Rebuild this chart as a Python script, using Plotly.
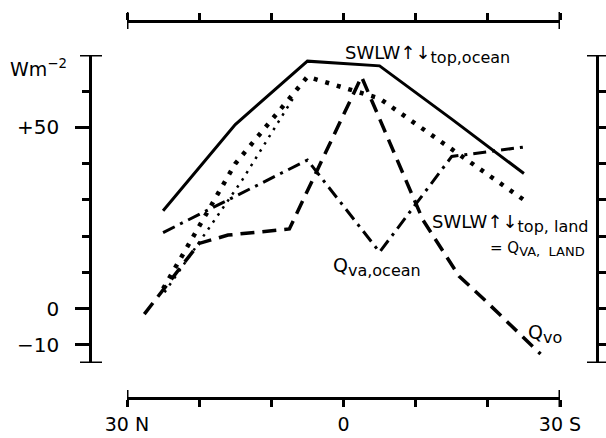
import plotly.graph_objects as go

# ---- data ----
lat_main = [-25, -15, -5, 5, 15, 25]
swlw_top_ocean = [27.0, 50.8, 68.3, 67.0, 52.3, 37.3]
swlw_top_land = [5.5, 40.0, 64.0, 58.0, 44.0, 30.0]
qva_ocean = [21.0, 31.0, 41.0, 15.6, 42.0, 44.6]

lat_land_faint = [-24.8, -14.0, -7.0]
land_faint = [4.5, 35.6, 58.0]

lat_qvo = [-27.6, -20.0, -16.0, -7.5, 2.5, 11.0, 16.0, 19.5, 27.3]
qvo = [-1.5, 18.0, 20.3, 22.0, 64.0, 24.5, 9.0, 2.5, -12.5]

x_ticks = [-30, -20, -10, 0, 10, 20, 30]
x_ticktext = ["30 N", "", "", "0", "", "", "30 S"]
y_major = [-10, 0, 50]
y_major_text = ["\u221210", "0", "+50"]
y_minor = [10, 20, 30, 40, 60]
y_right_ticks = [-10, 0, 10, 20, 30, 40, 50, 60]

X_RANGE = [-30, 30]
Y_RANGE = [-15, 70]

FONT = "DejaVu Sans"
BLK = "black"

fig = go.Figure()

fig.add_trace(go.Scatter(x=lat_main, y=swlw_top_ocean, mode="lines",
                         line=dict(color=BLK, width=3)))
fig.add_trace(go.Scatter(x=lat_main, y=swlw_top_land, mode="lines",
                         line=dict(color=BLK, width=4.5, dash="4px,8px")))
fig.add_trace(go.Scatter(x=lat_land_faint, y=land_faint, mode="lines",
                         line=dict(color=BLK, width=2.5, dash="2.5px,6px")))
fig.add_trace(go.Scatter(x=lat_main, y=qva_ocean, mode="lines",
                         line=dict(color=BLK, width=3, dash="13px,6px,3px,6px")))
fig.add_trace(go.Scatter(x=lat_qvo, y=qvo, mode="lines",
                         line=dict(color=BLK, width=3.5, dash="14px,8px")))
# dummy trace so the secondary (top / right) axes exist
fig.add_trace(go.Scatter(x=[0], y=[0], xaxis="x2", yaxis="y2", mode="markers",
                         marker=dict(opacity=0), hoverinfo="skip"))

PW, PH = 507, 377
XD = [37 / PW, 470 / PW]
YD = [35 / PH, 343 / PH]

axis_common = dict(showline=True, linecolor=BLK, linewidth=2.5, showgrid=False,
                   zeroline=False, tickcolor=BLK, tickwidth=2.5, automargin=False,
                   tickfont=dict(family=FONT, size=20, color=BLK))
x_common = dict(axis_common)
x_common["tickfont"] = dict(family=FONT, size=19, color=BLK)

fig.update_layout(
    template="none",
    width=606, height=438,
    margin=dict(l=90, r=9, t=21, b=40),
    paper_bgcolor="white", plot_bgcolor="white",
    showlegend=False,
    xaxis=dict(domain=XD, range=X_RANGE, anchor="free", position=0,
               tickmode="array", tickvals=x_ticks, ticktext=x_ticktext,
               ticks="outside", ticklen=7, ticklabelstandoff=1, **x_common),
    xaxis2=dict(domain=XD, range=X_RANGE, anchor="free", position=1,
                overlaying="x", side="top", tickmode="array", tickvals=x_ticks,
                showticklabels=False, ticks="outside", ticklen=7, **x_common),
    yaxis=dict(domain=YD, range=Y_RANGE, anchor="free", position=0,
               tickmode="array", tickvals=y_major, ticktext=y_major_text,
               ticks="outside", ticklen=14, ticklabelstandoff=12,
               minor=dict(tickmode="array", tickvals=y_minor, ticks="outside",
                          ticklen=7, tickwidth=2.5, tickcolor=BLK),
               **axis_common),
    yaxis2=dict(domain=YD, range=Y_RANGE, anchor="free", position=1,
                overlaying="y", side="right", tickmode="array",
                tickvals=y_right_ticks, showticklabels=False,
                ticks="outside", ticklen=7, **axis_common),
)

# end caps of the axes
cap = dict(type="line", line=dict(color=BLK, width=3))
for yv in Y_RANGE:
    fig.add_shape(xref="paper", yref="y", x0=-10 / PW, x1=12 / PW, y0=yv, y1=yv, **cap)
    fig.add_shape(xref="paper", yref="y", x0=1 - 10 / PW, x1=1 + 12 / PW, y0=yv, y1=yv, **cap)
for xv in X_RANGE:
    fig.add_shape(xref="x", yref="paper", x0=xv, x1=xv, y0=-9 / PH, y1=8 / PH, **cap)
    fig.add_shape(xref="x", yref="paper", x0=xv, x1=xv, y0=1 - 8 / PH, y1=1 + 9 / PH, **cap)


def fnt(size):
    return dict(family=FONT, size=size, color=BLK)


def sub(text, size):
    return "<sub><span style='font-size:%dpx'>%s</span></sub>" % (size, text)


def add_text(x, y, text, size=18, xref="x", yref="y"):
    fig.add_annotation(x=x, y=y, xref=xref, yref=yref, text=text, showarrow=False,
                       xanchor="left", yanchor="middle", font=fnt(size))


def px_to_paper(px, py):
    return (px - 90) / PW, (398 - py) / PH


# texts outside the data range are placed in paper coordinates
tx, ty = px_to_paper(343, 55)
add_text(tx, ty, "SWLW\u2191\u2193" + sub("top,ocean", 16), xref="paper", yref="paper")
wx, wy = px_to_paper(8, 68)
add_text(wx, wy, "Wm<sup>\u22122</sup>", size=19, xref="paper", yref="paper")

add_text(12.0, 23.5, "SWLW\u2191\u2193" + sub("top, land", 16))
add_text(20.0, 16.5, "= Q" + sub("VA,&nbsp;&nbsp;LAND", 13), size=15)
add_text(-1.7, 11.5, "Q" + sub("va,ocean", 16), size=19)
add_text(25.3, -7.0, "Q" + sub("vo", 16), size=19)

fig.write_html("out.html")
